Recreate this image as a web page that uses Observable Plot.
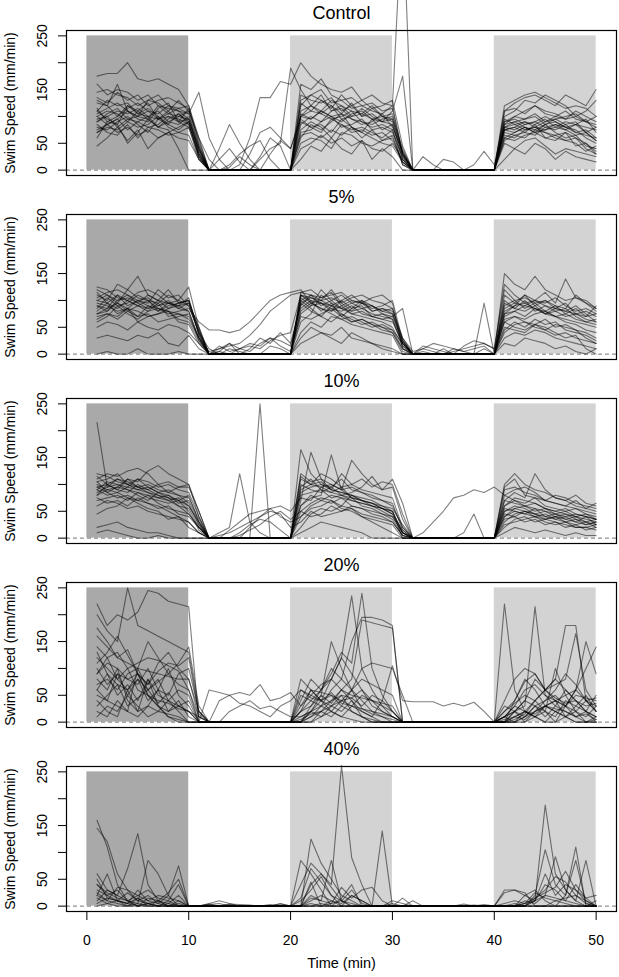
<!DOCTYPE html>
<html>
<head>
<meta charset="utf-8">
<script src="https://cdn.jsdelivr.net/npm/d3@7"></script>
<script src="https://cdn.jsdelivr.net/npm/@observablehq/plot@0.6"></script>
<style>
  html, body { margin: 0; padding: 0; background: white; }
  #chart { width: 619px; }
</style>
</head>
<body>
<div id="chart"></div>
<script>
// ---- categories / axes ----
const panels = ["Control", "5%", "10%", "20%", "40%"];
const times = d3.range(1, 51); // minutes 1..50
const xTicks = [0, 10, 20, 30, 40, 50];
const yTicks = [0, 50, 100, 150, 200, 250];
const yTickLabels = [0, 50, 150, 250];
const darkPhases = [[0, 10]];
const lightPhases = [[20, 30], [40, 50]];

// ---- swim speed (mm/min) per fish, minutes 1..50 ----
const control = [
  [95,100,110,105,115,100,95,105,100,110, 60,0,0,0,0,0,0,0,0,0, 110,120,105,95,100,110,90,85,95,100, 40,0,0,0,0,0,0,0,0,0, 80,85,90,80,75,85,80,70,65,60],
  [175,180,180,200,170,165,170,160,150,120, 50,0,0,0,0,0,0,0,0,0, 130,140,150,125,130,115,120,110,105,120, 30,0,0,0,0,0,0,0,0,0, 90,100,110,120,105,100,95,110,100,90],
  [160,140,150,145,130,140,120,115,110,105, 30,0,0,0,0,0,0,0,0,0, 100,95,110,130,120,110,105,95,90,85, 20,0,0,0,0,0,0,0,0,0, 75,80,90,85,95,80,75,85,70,55],
  [80,75,90,100,85,70,95,110,90,80, 20,0,0,0,0,0,0,0,0,0, 90,80,70,95,85,75,80,70,60,75, 10,0,0,0,0,0,0,0,0,0, 60,70,80,75,85,70,60,65,45,40],
  [130,120,160,110,100,130,140,120,115,105, 145,60,20,0,0,0,0,0,0,0, 120,140,130,115,140,120,100,105,90,95, 30,0,0,0,0,0,0,0,0,0, 100,110,130,125,140,130,120,100,110,130],
  [100,110,105,90,110,125,95,100,90,95, 40,0,40,85,50,20,0,0,0,0, 70,75,90,100,80,85,95,75,80,70, 25,0,0,0,0,0,0,0,0,0, 85,90,80,70,75,80,90,85,80,75],
  [45,60,80,55,75,40,60,70,60,55, 20,0,0,10,30,45,55,20,0,0, 50,60,55,40,70,65,50,45,55,60, 15,0,0,0,0,0,0,0,0,0, 50,40,55,60,45,30,40,35,30,25],
  [110,95,85,120,105,100,110,90,85,100, 45,0,0,0,10,60,135,135,165,160, 200,175,160,150,145,155,130,140,125,120, 500,0,0,0,0,0,0,0,0,0, 110,125,135,140,130,120,140,130,120,150],
  [90,105,115,95,90,80,85,100,95,85, 30,0,0,0,0,30,70,80,60,40, 100,110,105,120,95,100,115,100,90,110, 175,0,25,10,0,0,0,0,0,0, 80,75,85,90,80,75,85,90,70,55],
  [75,85,70,80,65,75,60,70,80,90, 25,0,0,0,0,0,20,40,50,190, 150,120,110,100,105,95,90,80,85,75, 20,0,0,0,20,15,0,0,0,0, 70,65,60,75,70,60,55,60,50,35],
  [125,120,100,115,125,110,105,120,110,95, 35,0,0,0,0,0,0,0,0,0, 85,100,90,110,115,95,85,90,105,80, 35,0,0,0,0,0,0,10,35,10, 95,85,75,80,90,95,85,70,75,60],
  [100,85,95,110,95,90,115,125,90,115, 55,0,0,0,0,0,0,0,0,0, 40,50,65,50,60,45,55,40,35,50, 20,0,0,0,0,0,0,0,0,0, 65,60,75,80,70,65,70,60,40,30],
  [145,150,140,135,120,130,125,110,130,110, 40,0,0,0,0,0,0,0,0,0, 160,150,170,140,130,135,120,125,110,115, 30,0,0,0,0,0,0,0,0,0, 120,130,140,145,135,125,115,120,115,100],
  [85,70,65,85,60,80,75,65,70,80, 25,0,0,0,0,0,0,0,0,0, 75,90,80,60,85,70,75,65,70,55, 15,0,0,0,0,0,0,0,0,0, 75,80,70,65,80,85,75,65,70,80],
  [60,90,85,50,70,95,80,75,40,0, 0,0,0,0,0,0,0,0,0,0, 20,45,35,60,40,30,55,20,40,25, 0,0,0,0,0,0,0,0,0,0, 20,40,30,50,40,20,35,25,20,15],
  [110,130,120,125,105,115,100,85,105,90, 40,0,0,0,0,0,0,0,0,0, 105,95,110,100,90,105,110,95,100,90, 25,0,0,0,0,0,0,0,0,0, 90,95,85,90,100,90,80,85,95,70],
  [70,85,95,75,90,100,80,95,105,85, 30,0,20,40,15,0,0,30,55,40, 95,80,85,70,95,80,60,75,55,65, 10,0,0,0,0,0,0,0,0,0, 55,65,70,85,60,55,70,45,50,30],
  [105,115,125,110,100,95,120,105,115,120, 60,20,0,0,0,0,0,0,0,0, 125,110,130,120,105,125,100,115,120,130, 45,0,0,0,0,0,0,0,0,0, 85,100,95,105,90,100,110,95,90,100],
  [115,90,100,120,110,95,80,90,100,95, 35,0,0,0,0,0,25,60,45,0, 60,85,75,90,105,80,70,95,75,85, 30,0,0,0,0,0,0,0,0,0, 75,70,80,70,85,90,80,75,60,50],
  [90,100,80,95,100,110,95,85,75,90, 25,0,0,0,0,0,0,0,0,0, 100,120,140,110,120,100,105,120,100,95, 35,0,0,0,0,0,0,0,0,0, 80,90,95,100,85,95,100,105,90,85],
  [70,80,75,90,80,85,100,80,70,65, 20,0,0,5,25,10,0,0,0,0, 65,70,60,75,65,80,70,60,50,45, 15,0,0,0,0,0,0,0,0,0, 60,55,65,70,60,65,55,50,35,45],
  [135,125,145,130,140,120,130,135,125,115, 45,0,0,0,0,0,0,0,0,0, 140,130,125,135,110,120,130,115,100,105, 30,0,0,0,0,0,0,0,0,0, 110,115,105,120,110,105,95,100,90,80]
];
const pct5 = [
  [100,110,95,120,105,100,95,110,100,125, 50,0,0,0,0,0,0,0,0,0, 110,100,95,85,80,90,75,70,65,60, 20,0,0,0,0,0,0,0,0,0, 90,100,85,95,80,70,75,65,60,55],
  [125,120,105,100,115,120,110,95,100,90, 40,0,0,0,0,0,0,0,0,0, 115,120,105,110,115,100,95,105,110,95, 10,0,0,0,0,0,0,0,0,0, 150,130,120,145,120,110,100,105,95,80],
  [80,95,85,100,90,80,85,75,80,85, 60,45,45,40,45,60,80,100,110,115, 120,95,85,80,90,75,70,65,60,50, 15,0,0,0,0,0,0,0,0,0, 60,70,65,75,80,70,60,55,45,40],
  [60,70,90,75,65,80,95,70,75,65, 30,5,10,15,20,35,55,80,95,110, 115,110,90,100,85,80,95,90,75,70, 85,0,10,5,0,5,10,15,20,10, 130,110,95,100,90,85,80,75,70,90],
  [90,80,100,110,95,85,90,100,85,80, 25,0,0,0,0,0,0,0,0,0, 60,75,110,95,70,85,100,80,85,75, 20,0,0,0,0,0,0,0,0,0, 70,80,90,85,75,80,85,70,60,65],
  [70,75,65,80,70,75,60,65,70,75, 30,0,0,0,0,0,0,0,0,0, 40,60,50,70,65,55,50,45,40,35, 0,0,0,0,0,0,0,0,0,0, 40,55,60,50,45,55,50,45,40,30],
  [30,35,30,25,35,30,40,20,15,35, 10,0,0,0,0,0,0,0,0,0, 20,30,40,35,50,30,25,20,15,10, 0,0,0,0,0,0,0,0,0,0, 50,45,40,55,45,35,40,30,25,20],
  [110,100,130,120,145,110,100,120,95,100, 45,0,10,20,0,10,30,20,40,20, 90,110,100,120,95,105,110,100,95,85, 30,5,10,20,15,10,5,10,15,0, 75,90,110,100,115,95,140,105,100,85],
  [85,105,90,95,110,100,80,95,90,105, 35,0,15,5,10,5,20,30,15,5, 75,90,95,80,100,85,90,70,65,70, 25,0,0,0,10,0,0,0,95,0, 100,85,80,90,75,85,80,90,75,60],
  [95,90,80,85,70,90,85,80,60,55, 20,0,0,0,0,0,0,0,0,0, 100,85,70,90,75,60,65,55,50,45, 20,0,0,0,0,0,0,0,0,0, 45,60,50,65,55,60,45,40,35,25],
  [75,85,110,90,100,95,120,105,110,90, 40,10,0,0,0,0,0,0,0,0, 105,90,120,100,110,95,85,90,80,75, 30,0,0,0,0,0,0,0,0,0, 85,95,110,90,100,85,95,75,80,70],
  [115,95,75,85,80,70,75,85,90,80, 30,0,0,0,0,0,0,0,0,0, 80,95,85,75,65,70,60,50,55,45, 10,0,0,0,0,0,0,0,0,0, 60,50,45,55,50,40,30,35,10,0],
  [50,60,55,45,60,50,45,55,50,40, 20,0,0,0,0,0,0,0,0,0, 95,80,70,60,75,65,55,60,50,40, 5,0,0,0,0,0,0,0,0,0, 30,40,35,45,40,30,25,20,15,10],
  [105,115,120,110,100,105,90,95,85,95, 50,0,5,20,10,15,10,25,35,40, 110,105,95,90,100,110,95,85,90,100, 25,0,15,10,5,0,15,25,20,10, 120,100,105,95,100,90,85,110,95,85],
  [0,5,0,0,10,0,0,0,5,0, 0,0,0,0,0,0,0,0,0,0, 30,50,40,30,20,40,30,20,10,5, 0,0,0,0,0,0,0,0,0,0, 20,15,30,25,20,10,15,5,0,10],
  [90,85,95,80,90,100,85,80,75,70, 30,0,0,0,0,0,0,0,0,0, 85,100,80,95,85,75,80,70,75,65, 15,0,0,0,0,0,0,0,0,0, 75,80,70,85,75,70,65,60,55,50],
  [120,110,100,105,95,110,100,85,95,100, 45,0,0,10,5,0,0,15,10,0, 100,110,105,115,90,100,95,80,85,80, 20,0,5,0,0,10,5,0,10,0, 110,95,90,100,95,105,90,80,85,75],
  [65,75,70,85,60,70,75,80,65,60, 25,0,0,0,0,0,0,0,0,0, 70,65,75,85,70,60,65,55,45,40, 10,0,0,0,0,0,0,0,0,0, 65,70,60,55,65,50,55,45,30,20],
  [100,95,110,100,90,85,100,95,90,95, 40,0,5,0,10,20,15,30,25,15, 95,105,100,90,85,95,100,90,80,85, 25,0,0,0,0,0,0,0,0,0, 80,90,95,85,80,90,75,85,70,75],
  [75,80,95,85,100,90,80,90,95,100, 35,0,0,0,0,0,0,0,0,0, 110,95,100,105,95,80,85,75,70,65, 20,0,0,0,0,0,0,0,0,0, 95,85,100,80,90,80,70,75,65,60]
];
const pct10 = [
  [215,95,100,90,85,80,75,70,60,55, 20,0,0,0,0,0,0,0,0,0, 90,100,95,85,80,75,70,60,55,45, 10,0,0,0,0,0,0,0,0,0, 60,75,70,65,55,50,45,40,35,30],
  [110,120,115,125,130,120,100,105,95,100, 50,0,0,0,0,0,0,0,0,0, 120,105,110,100,90,95,85,75,70,60, 20,0,0,0,0,0,0,0,0,0, 100,120,100,90,85,75,70,60,55,50],
  [100,90,95,110,105,125,135,120,110,100, 40,0,0,0,0,0,0,0,0,0, 165,120,100,95,110,90,85,80,70,65, 15,0,0,0,0,0,0,0,0,0, 80,90,95,85,70,80,75,65,60,55],
  [90,80,85,95,90,85,80,70,75,60, 25,0,10,20,120,30,10,0,0,0, 70,160,110,90,85,80,75,70,60,55, 25,0,0,0,0,0,0,0,0,0, 70,85,75,120,90,75,70,80,65,60],
  [80,100,110,100,90,95,85,80,65,70, 30,0,0,0,0,0,250,0,0,0, 60,75,80,155,90,75,70,65,60,50, 10,0,0,0,0,0,0,0,0,0, 50,55,60,50,55,45,40,45,40,35],
  [70,75,80,70,85,75,70,65,70,50, 15,0,5,10,20,30,40,55,60,50, 75,70,95,100,90,145,120,100,90,110, 65,0,10,30,50,75,80,90,85,95, 80,70,60,65,55,50,55,45,40,35],
  [20,25,30,20,15,10,10,5,0,0, 0,0,0,0,0,0,0,0,0,0, 20,45,55,50,60,55,45,40,35,30, 5,0,0,0,0,0,0,0,0,0, 25,30,35,40,30,25,30,20,20,15],
  [120,115,105,100,95,90,100,85,80,75, 35,0,0,0,0,0,0,0,0,0, 100,90,85,95,80,70,65,60,50,40, 10,0,0,0,0,0,0,0,0,0, 40,50,45,55,40,45,35,30,40,25],
  [60,70,65,55,60,50,45,40,35,30, 10,0,0,15,30,45,50,55,40,30, 40,60,70,80,75,70,65,60,55,50, 0,0,0,0,0,0,10,45,0,0, 30,45,50,40,45,35,30,25,30,20],
  [95,100,90,85,100,90,80,75,70,80, 30,0,0,0,0,0,0,0,0,0, 80,85,90,75,80,85,95,115,90,95, 35,0,0,0,0,0,0,0,0,0, 60,70,65,75,60,55,50,55,45,40],
  [105,85,95,90,80,70,85,75,60,45, 20,0,0,0,0,0,0,0,0,0, 50,65,75,70,60,80,70,65,55,45, 15,0,0,0,0,0,0,0,0,0, 45,40,50,45,35,40,45,35,30,25],
  [45,55,60,75,65,55,50,35,40,30, 10,0,0,0,0,20,40,50,45,20, 30,50,40,45,50,60,55,45,40,30, 5,0,0,0,0,0,0,0,0,0, 20,35,40,30,35,30,25,20,20,25],
  [85,95,110,105,95,100,90,85,95,95, 50,0,0,0,0,0,0,0,0,0, 110,100,105,90,120,100,110,95,105,100, 45,0,0,0,0,0,0,0,0,0, 95,110,80,75,70,65,60,70,55,65],
  [75,65,70,60,75,65,55,60,45,40, 20,0,0,0,5,15,25,40,50,35, 50,40,45,60,50,55,40,35,30,25, 0,0,0,0,0,0,0,0,0,0, 55,50,45,40,35,40,30,35,25,30],
  [10,15,10,5,0,0,5,0,0,0, 0,0,0,0,0,0,0,0,0,0, 10,20,30,25,20,15,10,0,0,0, 0,0,0,0,0,0,0,0,0,0, 10,20,15,10,15,10,5,10,5,5],
  [90,105,100,95,110,95,85,90,80,65, 25,0,0,0,0,0,0,0,0,0, 85,95,100,90,85,80,70,65,55,50, 10,0,0,0,0,0,0,0,0,0, 70,65,60,55,50,45,50,40,45,35],
  [115,100,90,110,95,85,75,80,70,60, 30,0,0,0,0,0,0,0,0,0, 95,110,90,85,95,75,60,55,45,35, 5,0,0,0,0,0,0,0,0,0, 50,60,55,45,40,35,40,30,25,30],
  [80,90,85,75,70,80,65,55,50,45, 20,0,0,0,10,25,35,30,15,0, 60,80,70,65,75,60,55,50,45,40, 10,0,0,0,0,0,0,0,0,0, 40,55,50,45,50,40,35,40,30,35],
  [95,85,75,80,70,65,60,50,40,20, 10,0,0,0,0,0,0,0,0,0, 40,55,60,70,55,50,40,30,20,10, 0,0,0,0,0,0,0,0,0,0, 35,40,30,35,25,30,20,25,15,20],
  [105,110,120,100,110,105,95,100,90,85, 40,0,0,0,0,0,0,0,0,0, 115,100,120,110,95,100,90,85,80,75, 20,0,0,0,0,0,0,0,0,0, 90,95,85,80,70,65,60,55,50,45]
];
const pct20 = [
  [220,180,200,190,205,245,240,225,220,215, 0,0,0,0,0,0,0,0,0,0, 10,20,30,40,50,45,60,40,30,20, 0,0,0,0,0,0,0,0,0,0, 0,10,20,15,30,25,20,10,15,5],
  [200,170,150,250,180,170,160,150,140,130, 20,0,0,0,0,0,0,0,0,0, 0,0,20,40,60,80,190,185,180,175, 0,0,0,0,0,0,0,0,0,0, 0,0,10,20,30,40,50,60,40,20],
  [160,140,120,110,100,150,120,90,70,60, 0,0,0,0,0,0,0,0,0,0, 20,30,50,150,100,60,40,20,10,0, 0,0,0,0,0,0,0,0,0,0, 220,60,20,10,0,0,10,0,0,0],
  [130,90,70,60,80,60,75,90,110,140, 30,0,0,0,0,0,0,0,0,0, 50,40,60,80,120,235,100,60,30,10, 0,0,0,0,0,0,0,0,0,0, 10,20,30,215,50,30,20,10,0,5],
  [90,120,80,100,60,50,40,35,25,20, 0,0,0,0,0,0,0,0,0,0, 0,30,60,90,130,110,240,100,50,20, 0,0,0,0,0,0,0,0,0,0, 0,5,15,40,60,80,180,180,40,20],
  [80,60,100,40,20,30,60,100,50,30, 0,60,55,50,55,50,70,40,45,55, 30,60,55,50,40,45,30,50,40,105, 40,38,38,38,30,35,30,37,20,0, 10,30,60,70,50,40,30,50,45,40],
  [60,90,50,70,40,80,50,40,30,20, 10,0,40,50,35,30,20,10,30,40, 60,45,40,55,35,30,25,20,15,10, 0,0,0,0,0,0,0,0,0,0, 20,40,75,90,60,70,80,165,60,30],
  [50,40,30,20,100,60,80,40,20,0, 0,0,0,0,0,0,0,0,0,0, 0,10,30,60,80,150,195,195,190,180, 0,0,0,0,0,0,0,0,0,0, 10,30,20,40,60,40,30,60,150,90],
  [40,20,10,60,20,80,30,10,5,0, 0,0,0,0,0,0,0,0,0,0, 20,40,30,20,10,5,0,0,0,0, 0,0,0,0,0,0,0,0,0,0, 40,80,100,90,60,80,60,40,20,10],
  [110,130,160,125,90,70,110,130,100,80, 20,0,0,0,0,0,0,0,0,0, 40,80,60,100,80,60,100,110,105,100, 50,0,0,0,0,0,0,0,0,0, 0,20,10,30,40,50,30,20,40,45],
  [20,10,40,20,10,30,20,15,10,0, 0,0,0,0,0,0,0,0,0,0, 0,0,10,20,40,30,20,10,0,0, 0,0,0,0,0,0,0,0,0,0, 0,0,10,30,20,10,40,30,20,50],
  [100,70,90,50,80,40,60,20,30,40, 0,0,0,20,30,40,25,30,20,10, 10,20,40,50,30,20,10,5,0,0, 0,0,0,0,0,0,0,0,0,0, 5,10,20,10,30,20,10,0,0,0],
  [70,80,60,90,100,95,90,85,80,80, 10,0,0,0,0,0,0,0,0,0, 0,20,50,35,60,40,20,10,40,20, 0,0,0,0,0,0,0,0,0,0, 20,35,50,40,20,100,50,20,10,30],
  [175,150,120,135,90,50,30,10,0,0, 0,0,0,0,0,0,0,0,0,0, 80,60,40,30,50,20,10,0,0,0, 0,0,0,0,0,0,0,0,0,0, 0,0,0,10,20,0,30,60,100,140],
  [30,50,70,30,45,60,35,55,30,20, 0,0,0,0,0,0,0,0,0,0, 5,15,20,10,30,60,25,15,10,5, 0,0,0,0,0,0,0,0,0,0, 10,20,0,20,30,40,10,20,0,10],
  [90,110,100,80,90,70,95,110,105,120, 15,0,0,0,0,0,0,0,0,0, 30,50,70,80,60,50,45,40,35,30, 0,0,0,0,0,0,0,0,0,0, 30,20,40,80,60,45,35,40,30,35],
  [120,100,80,60,90,50,30,20,40,10, 0,0,0,0,0,0,0,0,0,0, 60,50,40,20,10,30,50,40,20,10, 0,0,0,0,0,0,0,0,0,0, 0,20,40,30,10,30,60,40,20,10],
  [60,40,90,80,70,100,60,50,90,100, 20,0,0,0,0,0,0,0,0,0, 0,10,20,30,40,60,80,70,60,50, 0,0,0,0,0,0,0,0,0,0, 0,10,5,20,40,60,90,70,40,30],
  [140,120,130,100,110,120,115,105,95,60, 10,0,0,0,0,0,0,0,0,0, 20,60,40,80,120,90,60,30,20,10, 0,0,0,0,0,0,0,0,0,0, 0,40,80,60,30,20,10,30,50,20],
  [10,30,20,50,30,10,20,40,60,50, 0,0,0,0,0,0,0,0,0,0, 0,20,10,30,20,40,10,0,0,0, 0,0,0,0,0,0,0,0,0,0, 10,0,20,10,0,20,30,10,20,0]
];
const pct40 = [
  [160,110,40,10,0,0,0,0,0,0, 0,0,0,0,0,0,0,0,0,0, 0,0,0,0,0,0,0,0,0,0, 0,0,0,0,0,0,0,0,0,0, 0,0,0,0,0,0,0,0,0,0],
  [145,120,60,30,10,20,5,0,0,0, 0,2,0,3,0,0,0,0,0,0, 85,60,30,0,0,0,0,0,0,0, 0,0,0,0,0,0,0,0,0,0, 0,0,0,0,0,0,0,0,0,0],
  [60,30,20,70,135,40,10,0,0,0, 0,0,0,0,0,0,0,0,0,0, 0,125,80,50,20,10,0,0,0,0, 0,0,0,0,0,0,0,0,0,0, 0,0,0,10,188,60,30,10,0,0],
  [40,25,15,10,5,85,60,20,0,0, 0,5,10,5,0,0,0,0,0,0, 40,80,60,40,262,90,40,0,0,0, 0,0,0,0,0,0,0,0,0,0, 0,0,0,20,105,40,20,110,0,0],
  [20,10,35,30,20,10,5,20,75,0, 0,0,0,0,0,0,0,0,5,0, 0,20,10,85,10,0,0,0,140,0, 0,0,0,0,0,0,0,0,0,0, 25,30,20,10,20,92,30,10,85,0],
  [30,20,10,5,30,10,20,15,10,0, 0,0,0,0,0,0,0,0,0,0, 0,15,10,5,35,15,30,35,10,0, 15,0,0,0,0,0,0,2,0,0, 0,0,0,15,25,35,65,30,15,20],
  [10,30,20,10,20,30,15,10,40,0, 0,0,0,0,0,0,0,0,0,0, 0,10,20,10,5,20,10,0,0,0, 0,0,0,0,0,0,0,0,0,0, 5,10,5,25,15,10,15,20,10,0],
  [5,15,10,5,0,15,10,25,50,0, 0,0,0,0,0,0,0,0,0,0, 0,45,0,10,0,0,0,0,0,5, 0,0,0,0,0,0,0,0,0,0, 0,0,20,30,10,0,20,85,5,0],
  [15,5,0,0,5,0,0,5,0,0, 0,3,5,0,0,0,0,0,0,0, 0,0,0,5,10,0,0,0,0,0, 0,0,0,0,0,0,4,0,3,0, 0,0,5,10,40,30,10,5,0,0],
  [50,15,10,25,10,5,0,0,0,0, 0,0,0,4,3,2,0,0,4,0, 0,5,0,0,0,20,10,0,0,0, 0,0,0,0,0,0,0,0,0,0, 30,30,25,0,0,0,0,0,0,0],
  [25,10,5,0,15,5,0,0,10,0, 0,0,0,0,0,0,0,0,0,0, 10,30,55,20,0,0,0,0,0,10, 5,0,0,0,0,0,0,0,0,0, 0,0,10,5,20,15,10,40,15,0],
  [0,5,10,0,0,5,0,10,0,0, 0,4,0,0,0,0,0,3,0,0, 0,0,5,0,15,40,0,0,0,0, 0,10,0,0,0,0,0,0,0,0, 0,5,0,0,0,10,5,0,0,10],
  [40,20,30,10,0,5,10,0,5,0, 0,0,0,0,0,0,0,0,0,0, 0,40,60,35,10,5,0,0,0,0, 0,0,0,0,0,0,0,0,0,0, 0,0,0,10,60,20,40,30,10,0],
  [20,60,10,5,15,0,10,5,20,0, 0,0,0,0,0,0,0,0,0,0, 15,70,45,20,10,30,5,0,0,0, 0,0,0,0,0,0,0,0,0,0, 0,0,5,15,30,55,45,20,5,0]
];
const seriesByPanel = [control, pct5, pct10, pct20, pct40];

// ---- table for Plot ----
const rows = panels.flatMap((p, i) =>
  seriesByPanel[i].flatMap((fish, j) =>
    fish.map((v, k) => ({panel: p, fish: p + "-" + j, t: times[k], v}))
  )
);
const titleRows = panels.map(p => ({panel: p}));
const xLabelRows = [{panel: panels[panels.length - 1], label: "Time (min)"}];

const font = "Liberation Sans, Arial, Helvetica, sans-serif";

const chart = Plot.plot({
  width: 619,
  height: 977,
  marginLeft: 66,
  marginRight: 3,
  marginTop: 28,
  marginBottom: 64,
  style: {fontFamily: font, fontSize: "14px", background: "white", overflow: "visible"},
  x: {domain: [-2, 52], axis: null},
  y: {domain: [-10, 260], axis: null},
  fy: {domain: panels, paddingInner: 0.21, paddingOuter: 0, axis: null, label: null},
  marks: [
    Plot.rect(darkPhases, {x1: d => d[0], x2: d => d[1], y1: 0, y2: 250, fill: "#a9a9a9"}),
    Plot.rect(lightPhases, {x1: d => d[0], x2: d => d[1], y1: 0, y2: 250, fill: "#d3d3d3"}),
    Plot.ruleY([0], {stroke: "#777", strokeDasharray: "4,3", strokeWidth: 1}),
    Plot.line(rows, {x: "t", y: "v", z: "fish", fy: "panel", stroke: "black", strokeOpacity: 0.5, strokeWidth: 1.1}),
    Plot.frame({stroke: "black", strokeWidth: 1.2}),
    Plot.axisY({ticks: yTicks, tickSize: 8, tickFormat: () => "", label: null}),
    Plot.text(yTickLabels, {y: d => d, text: d => String(d), frameAnchor: "left", textAnchor: "middle", dx: -24, rotate: -90, fontSize: 14}),
    Plot.text(["Swim Speed (mm/min)"], {frameAnchor: "left", textAnchor: "middle", dx: -56, rotate: -90, fontSize: 14}),
    Plot.text(titleRows, {fy: "panel", text: "panel", frameAnchor: "top", dy: -12, lineAnchor: "bottom", fontSize: 18}),
    Plot.axisX({ticks: xTicks, tickSize: 9, tickPadding: 15, fontSize: 14, label: null}),
    Plot.text(xLabelRows, {fy: "panel", text: "label", frameAnchor: "bottom", dy: 56, fontSize: 14.5})
  ]
});
document.getElementById("chart").appendChild(chart);
</script>
</body>
</html>
